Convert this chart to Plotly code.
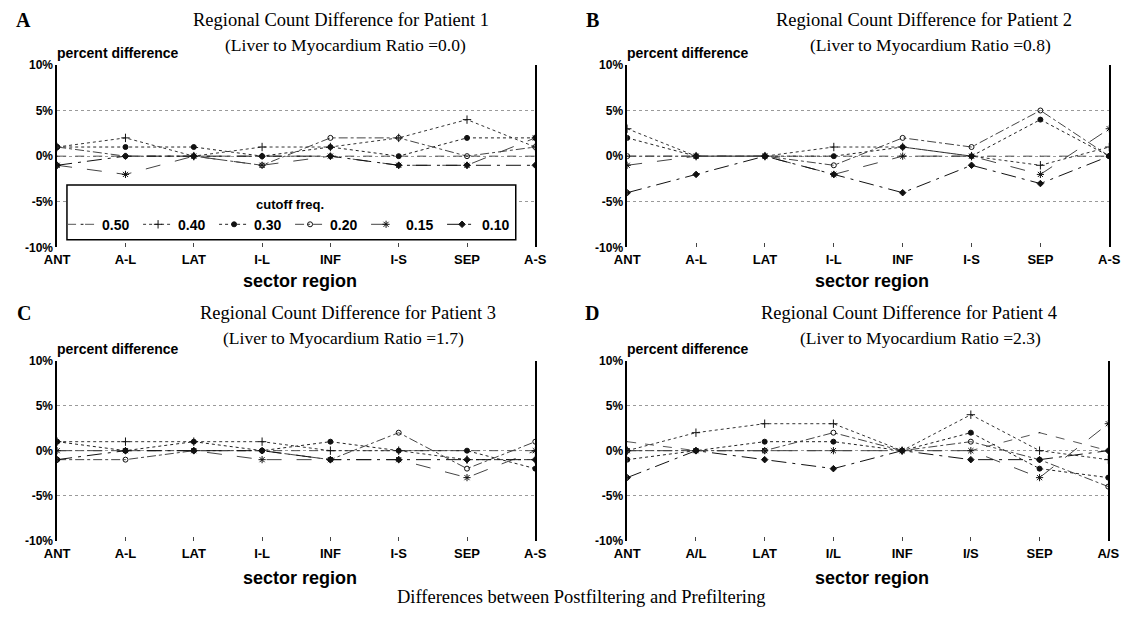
import plotly.graph_objects as go

# Reference canvas size; the page body keeps an 8px margin, so the
# figure itself is 16px smaller and every position is offset by 8px.
W, H = 1141, 620
OFF = 8
FW, FH = W - 2 * OFF, H - 2 * OFF

regions_abc = ["ANT", "A-L", "LAT", "I-L", "INF", "I-S", "SEP", "A-S"]
regions_d = ["ANT", "A/L", "LAT", "I/L", "INF", "I/S", "SEP", "A/S"]
cutoffs = ["0.50", "0.40", "0.30", "0.20", "0.15", "0.10"]

# Panel A: Patient 1 (L/M ratio 0.0)
p1_050 = [0, 0, 0, 0, 0, 0, 0, 0]
p1_040 = [1, 2, 0, 1, 1, 2, 4, 1]
p1_030 = [1, 1, 1, 0, 1, 0, 2, 2]
p1_020 = [1, 0, 0, -1, 2, 2, 0, 1]
p1_015 = [-1, -2, 0, -1, 0, -1, -1, 2]
p1_010 = [-1, 0, 0, 0, 0, -1, -1, -1]

# Panel B: Patient 2 (L/M ratio 0.8)
p2_050 = [0, 0, 0, 0, 0, 0, 0, 0]
p2_040 = [3, 0, 0, 1, 1, 0, -1, 1]
p2_030 = [2, 0, 0, 0, 1, 0, 4, 0]
p2_020 = [0, 0, 0, -1, 2, 1, 5, 0]
p2_015 = [-1, 0, 0, -2, 0, 0, -2, 3]
p2_010 = [-4, -2, 0, -2, -4, -1, -3, 0]

# Panel C: Patient 3 (L/M ratio 1.7)
p3_050 = [0, 0, 0, 0, 0, 0, 0, 0]
p3_040 = [1, 1, 1, 1, 0, 0, -1, -1]
p3_030 = [1, 0, 1, 0, 1, 0, 0, -2]
p3_020 = [-1, -1, 0, 0, -1, 2, -2, 1]
p3_015 = [0, 0, 0, -1, -1, -1, -3, 0]
p3_010 = [-1, 0, 0, 0, -1, -1, -1, -1]

# Panel D: Patient 4 (L/M ratio 2.3)
p4_050 = [1, 0, 0, 0, 0, 0, 2, 0]
p4_040 = [0, 2, 3, 3, 0, 4, 0, -1]
p4_030 = [-1, 0, 1, 1, 0, 2, -2, -3]
p4_020 = [0, 0, 0, 2, 0, 1, -1, -4]
p4_015 = [0, 0, 0, 0, 0, 0, -3, 3]
p4_010 = [-3, 0, -1, -2, 0, -1, -1, 0]

yticks = [-10, -5, 0, 5, 10]
yticktext = ["-10%", "-5%", "0%", "5%", "10%"]

panels = [
    dict(letter="A", patient="1", ratio="0.0", cats=regions_abc,
         series=[p1_050, p1_040, p1_030, p1_020, p1_015, p1_010],
         x=(45, 534), y=(59, 246), tx=335, t2=340, ty=13, lx=11, xl=280),
    dict(letter="B", patient="2", ratio="0.8", cats=regions_abc,
         series=[p2_050, p2_040, p2_030, p2_020, p2_015, p2_010],
         x=(628, 1121), y=(59, 246), tx=932, t2=938, ty=13, lx=592, xl=280),
    dict(letter="C", patient="3", ratio="1.7", cats=regions_abc,
         series=[p3_050, p3_040, p3_030, p3_020, p3_015, p3_010],
         x=(45, 534), y=(362, 546), tx=342, t2=338, ty=313, lx=11, xl=584),
    dict(letter="D", patient="4", ratio="2.3", cats=regions_d,
         series=[p4_050, p4_040, p4_030, p4_020, p4_015, p4_010],
         x=(628, 1120), y=(362, 546), tx=916, t2=928, ty=313, lx=592, xl=584),
]

styles = [
    dict(dash="dash", color="#555555", symbol="line-ew", size=1),
    dict(dash="dot", color="#333333", symbol="cross-thin", size=6),
    dict(dash="dot", color="#222222", symbol="circle", size=5),
    dict(dash="dashdot", color="#444444", symbol="circle-open", size=5),
    dict(dash="longdash", color="#444444", symbol="asterisk", size=6),
    dict(dash="longdashdot", color="#111111", symbol="diamond", size=5),
]


def px(v):
    return (v - OFF) / FW


def py(v):
    return 1 - (v - OFF) / FH


SANS = "Liberation Sans"
SERIF = "Liberation Serif"

fig = go.Figure()
annotations = []
shapes = []
layout = {}

for i, p in enumerate(panels):
    n = "" if i == 0 else str(i + 1)
    xa, ya = "x" + n, "y" + n
    for j, s in enumerate(p["series"]):
        st = styles[j]
        fig.add_trace(go.Scatter(
            x=p["cats"], y=s, xaxis=xa, yaxis=ya,
            mode="lines+markers", name=cutoffs[j],
            legendgroup=cutoffs[j], showlegend=(i == 0),
            line=dict(color=st["color"], width=1, dash=st["dash"]),
            marker=dict(symbol=st["symbol"], size=st["size"], color="#111111",
                        line=dict(width=1, color="#111111")),
        ))
    layout["xaxis" + n] = dict(
        domain=[px(p["x"][0]), px(p["x"][1])], anchor=ya,
        type="category", categoryorder="array", categoryarray=p["cats"],
        range=[0, 7], showgrid=False, zeroline=False, showline=False,
        ticks="inside", ticklen=4, tickcolor="#444444", ticklabelstandoff=3,
        tickfont=dict(family=SANS, size=13, color="black", weight="bold"),
    )
    layout["yaxis" + n] = dict(
        domain=[py(p["y"][1]), py(p["y"][0])], anchor=xa,
        range=[-10, 10], tickvals=yticks, ticktext=yticktext,
        showgrid=True, gridcolor="#9a9a9a", griddash="dot", gridwidth=1,
        zeroline=False, showline=True, linecolor="black", linewidth=1.5,
        mirror=True, ticks="",
        tickfont=dict(family=SANS, size=12, color="black", weight="bold"),
    )
    cx = (p["x"][0] + p["x"][1]) / 2
    top = p["y"][0]
    annotations.append(dict(
        text="<b>%s</b>" % p["letter"], x=px(p["lx"]), y=py(p["ty"]),
        xref="paper", yref="paper", showarrow=False, xanchor="center", yanchor="middle",
        font=dict(family=SERIF, size=20, color="black")))
    annotations.append(dict(
        text="Regional Count Difference for Patient %s" % p["patient"],
        x=px(p["tx"]), y=py(p["ty"]), xref="paper", yref="paper", showarrow=False,
        xanchor="center", yanchor="middle",
        font=dict(family=SERIF, size=18.5, color="black")))
    annotations.append(dict(
        text="(Liver to Myocardium Ratio =%s)" % p["ratio"],
        x=px(p["t2"]), y=py(p["ty"] + 26), xref="paper", yref="paper", showarrow=False,
        xanchor="center", yanchor="middle",
        font=dict(family=SERIF, size=17.5, color="black")))
    annotations.append(dict(
        text="<b>percent difference</b>", x=px(p["x"][0] - 2), y=py(top - 12),
        xref="paper", yref="paper", showarrow=False, xanchor="left", yanchor="middle",
        font=dict(family=SANS, size=14, color="black")))
    annotations.append(dict(
        text="<b>sector region</b>", x=px(cx + 4), y=py(p["xl"]),
        xref="paper", yref="paper", showarrow=False, xanchor="center", yanchor="middle",
        font=dict(family=SANS, size=18, color="black")))

# legend frame (box drawn behind the legend entries)
shapes.append(dict(
    type="rect", xref="paper", yref="paper",
    x0=px(55), x1=px(514), y0=py(238), y1=py(182),
    fillcolor="white", line=dict(color="black", width=1.5), layer="above"))

annotations.append(dict(
    text="Differences between Postfiltering and Prefiltering",
    x=px(581), y=py(604), xref="paper", yref="paper", showarrow=False,
    xanchor="center", yanchor="middle",
    font=dict(family=SERIF, size=18.5, color="black")))

fig.update_layout(
    width=FW, height=FH,
    margin=dict(l=0, r=0, t=0, b=0),
    paper_bgcolor="white", plot_bgcolor="white",
    annotations=annotations, shapes=shapes,
    legend=dict(
        orientation="h", x=px(50), y=py(189), xanchor="left", yanchor="top",
        bgcolor="rgba(0,0,0,0)", borderwidth=0,
        title=dict(text="<b>cutoff freq.</b>", side="top center",
                   font=dict(family=SANS, size=13, color="black")),
        font=dict(family=SANS, size=14, color="black", weight="bold"),
        itemwidth=30, entrywidth=31, entrywidthmode="pixels",
        tracegroupgap=0,
    ),
    **layout,
)

fig.write_html("out.html", config={"displayModeBar": False})
